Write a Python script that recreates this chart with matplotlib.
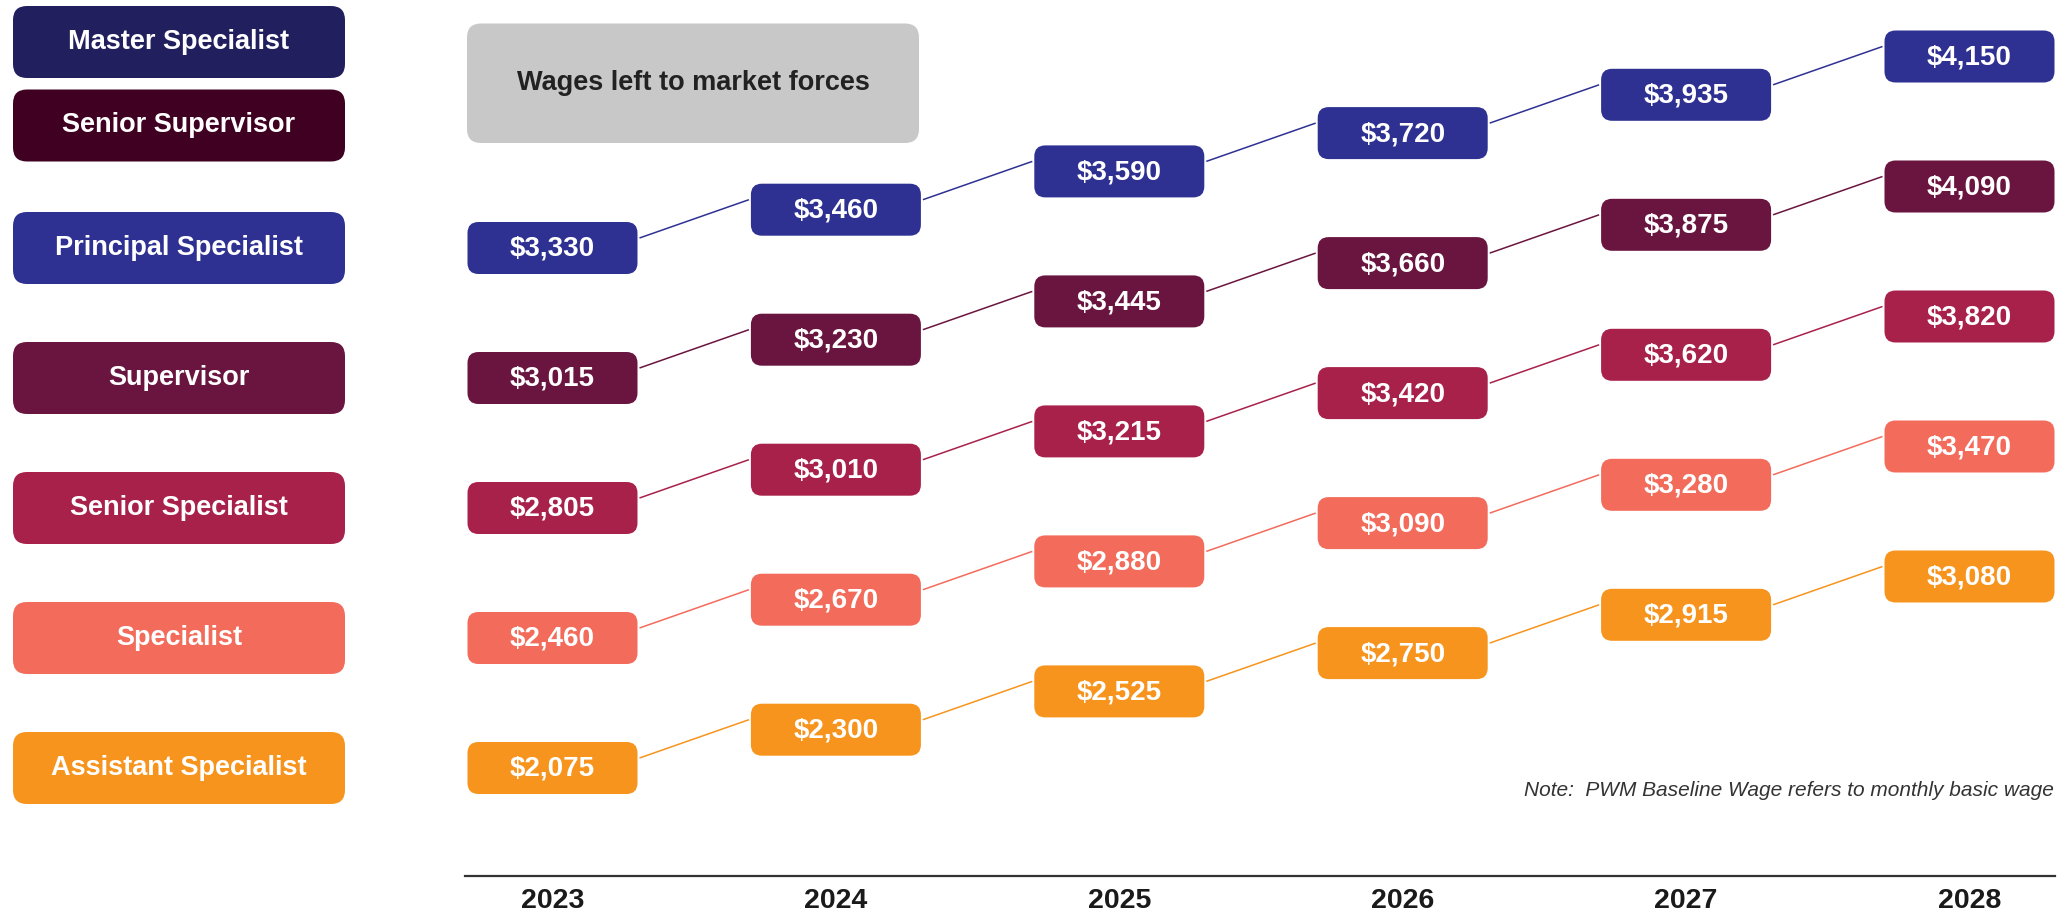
import matplotlib
matplotlib.use("Agg")
import matplotlib.pyplot as plt
from matplotlib.patches import FancyBboxPatch

plt.rcParams["font.family"] = ["Liberation Sans", "DejaVu Sans"]

# --- data -------------------------------------------------------------
years = ["2023", "2024", "2025", "2026", "2027", "2028"]
grades = ["Principal Specialist", "Supervisor", "Senior Specialist",
          "Specialist", "Assistant Specialist"]
principal = [3330, 3460, 3590, 3720, 3935, 4150]
supervisor = [3015, 3230, 3445, 3660, 3875, 4090]
senior_specialist = [2805, 3010, 3215, 3420, 3620, 3820]
specialist = [2460, 2670, 2880, 3090, 3280, 3470]
assistant = [2075, 2300, 2525, 2750, 2915, 3080]
wages = [principal, supervisor, senior_specialist, specialist, assistant]
market_grades = ["Master Specialist", "Senior Supervisor"]
note = "Note:  PWM Baseline Wage refers to monthly basic wage"
market_text = "Wages left to market forces"

# --- styles -----------------------------------------------------------
grade_colors = ["#2e3192", "#6a153f", "#a8214a", "#f26b5b", "#f7941d"]
market_colors = ["#221f5e", "#3f0022"]

# layout in pixel units (axes spans whole figure)
W, H = 2065, 914
x0, dx = 552.5, 283.4          # centre of first year column, column spacing
y0, dy = 248, 130              # centre of first grade row in 2023, row spacing
step = 38.3                    # upward shift per year
box_w, box_h = 170, 52
lab_x0, lab_x1, lab_h = 13, 345, 72
market_y = [42, 125.5]

fig = plt.figure(figsize=(W / 100, H / 100), dpi=100)
ax = fig.add_axes([0, 0, 1, 1])
ax.set_xlim(0, W)
ax.set_ylim(H, 0)
ax.axis("off")


def rbox(xc, yc, w, h, color, r):
    ax.add_patch(FancyBboxPatch(
        (xc - w / 2, yc - h / 2), w, h,
        boxstyle=f"round,pad=0,rounding_size={r}",
        facecolor=color, edgecolor="none", zorder=3,
    ))


# left grade labels
for name, yc, color in zip(market_grades, market_y, market_colors):
    rbox((lab_x0 + lab_x1) / 2, yc, lab_x1 - lab_x0, lab_h, color, 14)
    ax.text((lab_x0 + lab_x1) / 2, yc, name, color="white", fontsize=19.5,
            fontweight="bold", ha="center", va="center", zorder=4)
for r, (name, color) in enumerate(zip(grades, grade_colors)):
    yc = y0 + r * dy
    rbox((lab_x0 + lab_x1) / 2, yc, lab_x1 - lab_x0, lab_h, color, 14)
    ax.text((lab_x0 + lab_x1) / 2, yc, name, color="white", fontsize=19.5,
            fontweight="bold", ha="center", va="center", zorder=4)

# grey market forces box
gx0, gx1, gy0, gy1 = 467, 919, 23.5, 143
ax.add_patch(FancyBboxPatch(
    (gx0, gy0), gx1 - gx0, gy1 - gy0,
    boxstyle="round,pad=0,rounding_size=14",
    facecolor="#c8c8c8", edgecolor="none", zorder=3,
))
ax.text((gx0 + gx1) / 2, (gy0 + gy1) / 2, market_text, color="#222222",
        fontsize=19.5, fontweight="bold", ha="center", va="center", zorder=4)

# wage progression boxes and connectors
for r, (series, color) in enumerate(zip(wages, grade_colors)):
    xs = [x0 + j * dx for j in range(len(series))]
    ys = [y0 + r * dy - j * step for j in range(len(series))]
    for j in range(len(series) - 1):
        ax.plot([xs[j] + box_w / 2 + 2, xs[j + 1] - box_w / 2 - 2],
                [ys[j] - 10, ys[j + 1] - 10],
                color=color, lw=1.1, zorder=2, solid_capstyle="butt")
    for xc, yc, v in zip(xs, ys, series):
        rbox(xc, yc, box_w, box_h, color, 11)
        ax.text(xc, yc + 1, f"${v:,}", color="white", fontsize=20,
                fontweight="bold", ha="center", va="center", zorder=4)

# baseline and year labels
ax.plot([465, 2055], [876, 876], color="#333333", lw=1.6, zorder=1)
for j, yr in enumerate(years):
    ax.text(x0 + j * dx, 901, yr, color="#1a1a1a", fontsize=20.5,
            fontweight="bold", ha="center", va="center")

ax.text(2054, 790, note, color="#333333", fontsize=15, style="italic",
        ha="right", va="center")

fig.savefig("out.png", dpi=100)
